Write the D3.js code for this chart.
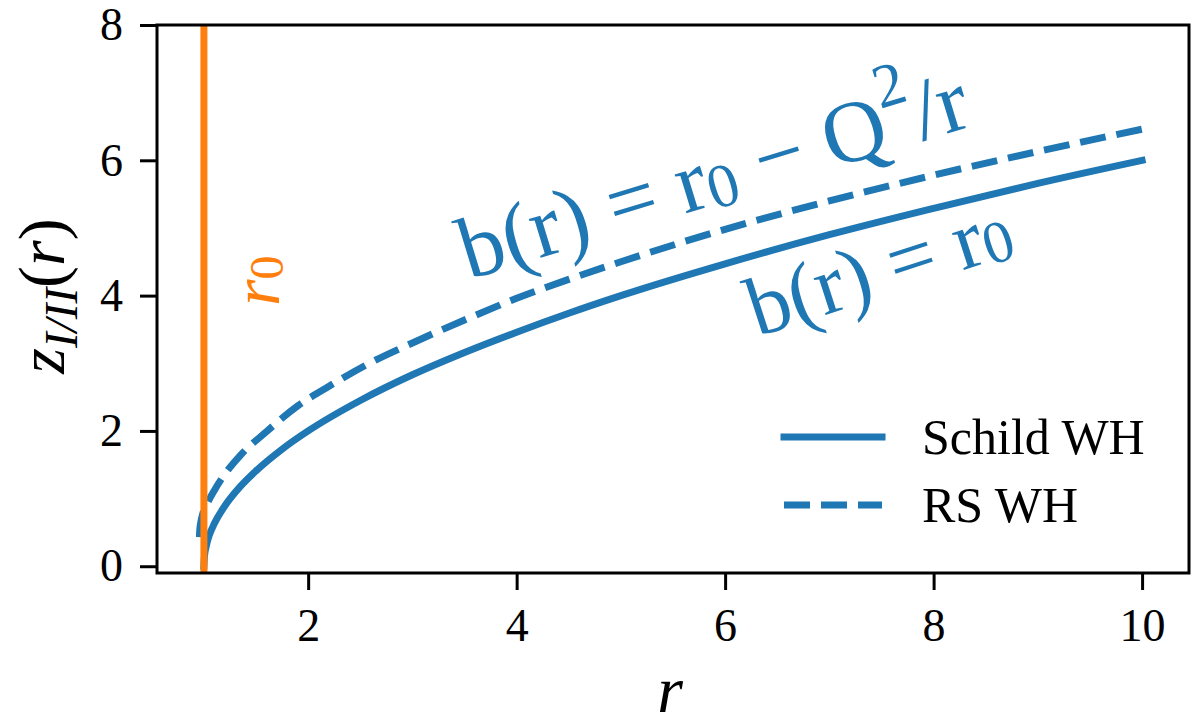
<!DOCTYPE html>
<html>
<head>
<meta charset="utf-8">
<script src="https://cdn.jsdelivr.net/npm/d3@7"></script>
<style>
  body { margin: 0; background: #fff; }
  svg { display: block; }
  text { font-family: "Liberation Serif", "DejaVu Serif", serif; }
  .axis path.domain { display: none; }
  .axis line { stroke: #000; stroke-width: 3; }
  .axis text { font-size: 46px; fill: #000; }
</style>
</head>
<body>
<script>
// values
const rSchild = [1, 1.005, 1.02, 1.05, 1.1, 1.2, 1.35, 1.5, 1.75, 2, 2.5, 3, 3.5, 4, 4.5, 5, 6, 7, 8, 9, 10];
const zSchild = [0, 0.14, 0.28, 0.45, 0.63, 0.89, 1.18, 1.41, 1.73, 2.0, 2.45, 2.83, 3.16, 3.46, 3.74, 4.0, 4.47, 4.90, 5.29, 5.66, 6.0];
const rRS = [0.957, 0.96, 0.97, 0.99, 1.03, 1.1, 1.2, 1.35, 1.6, 1.9, 2.2, 2.6, 3, 3.5, 4, 4.5, 5, 6, 7, 8, 9, 10];
const zRS = [0.43, 0.53, 0.65, 0.78, 0.92, 1.12, 1.36, 1.64, 1.99, 2.37, 2.66, 3.01, 3.30, 3.64, 3.96, 4.24, 4.50, 4.98, 5.40, 5.78, 6.13, 6.46];
const throatR = 1;
const xTicks = [2, 4, 6, 8, 10];
const yTicks = [0, 2, 4, 6, 8];
const legendLabels = ["Schild WH", "RS WH"];

const width = 1200, height = 727;
const plot = {left: 157, right: 1189, top: 25, bottom: 573};
const blue = "#1f77b4", orange = "#ff7f0e";

const svg = d3.select("body").append("svg")
  .attr("width", width)
  .attr("height", height);

const x = d3.scaleLinear().domain([0.55, 10.45]).range([plot.left, plot.right]);
const y = d3.scaleLinear().domain([-0.1, 8]).range([plot.bottom, plot.top]);

svg.append("defs").append("clipPath")
  .attr("id", "clip")
  .append("rect")
  .attr("x", plot.left).attr("y", plot.top)
  .attr("width", plot.right - plot.left)
  .attr("height", plot.bottom - plot.top);

const charts = svg.append("g").attr("clip-path", "url(#clip)");

const line = d3.line()
  .x(d => x(d[0]))
  .y(d => y(d[1]))
  .curve(d3.curveMonotoneX);

// Schild WH (solid)
charts.append("path")
  .datum(d3.zip(rSchild, zSchild))
  .attr("d", line)
  .attr("fill", "none")
  .attr("stroke", blue)
  .attr("stroke-width", 7)
  .attr("stroke-linecap", "square");

// RS WH (dashed)
charts.append("path")
  .datum(d3.zip(rRS, zRS))
  .attr("d", line)
  .attr("fill", "none")
  .attr("stroke", blue)
  .attr("stroke-width", 7)
  .attr("stroke-dasharray", "26,11");

// throat r0
charts.append("line")
  .attr("x1", x(throatR)).attr("x2", x(throatR))
  .attr("y1", plot.top).attr("y2", plot.bottom)
  .attr("stroke", orange)
  .attr("stroke-width", 7);

// axes
svg.append("g")
  .attr("class", "axis")
  .attr("transform", "translate(0," + plot.bottom + ")")
  .call(d3.axisBottom(x).tickValues(xTicks).tickSize(17).tickPadding(18).tickFormat(d3.format("d")));

svg.append("g")
  .attr("class", "axis")
  .attr("transform", "translate(" + plot.left + ",0)")
  .call(d3.axisLeft(y).tickValues(yTicks).tickSize(17).tickPadding(17).tickFormat(d3.format("d")));

svg.append("rect")
  .attr("x", plot.left).attr("y", plot.top)
  .attr("width", plot.right - plot.left)
  .attr("height", plot.bottom - plot.top)
  .attr("fill", "none")
  .attr("stroke", "#000")
  .attr("stroke-width", 3);

// axis labels
svg.append("text")
  .attr("x", (plot.left + plot.right) / 2 - 3)
  .attr("y", 712)
  .attr("text-anchor", "middle")
  .attr("font-size", 66)
  .attr("font-style", "italic")
  .text("r");

const yl = svg.append("text")
  .attr("transform", "translate(64,296) rotate(-90)")
  .attr("text-anchor", "middle")
  .attr("font-size", 66)
  .attr("font-style", "italic");
yl.append("tspan").text("z");
yl.append("tspan").attr("font-size", 47).attr("dy", 13).text("I/II");
yl.append("tspan").attr("dy", -13).attr("font-style", "normal").text("(");
yl.append("tspan").text("r");
yl.append("tspan").attr("font-style", "normal").text(")");

// annotations
const a1 = svg.append("text")
  .attr("transform", "translate(" + x(5.88) + "," + y(5.8) + ") rotate(-17)")
  .attr("text-anchor", "middle")
  .attr("dominant-baseline", "central")
  .attr("font-size", 88)
  .attr("fill", blue);
a1.append("tspan").text("b(r) = r");
a1.append("tspan").attr("font-size", 62).attr("dy", 14).text("0");
a1.append("tspan").attr("dy", -14).text(" \u2212 Q");
a1.append("tspan").attr("font-size", 62).attr("dy", -34).text("2");
a1.append("tspan").attr("dy", 34).text("/r");

const a2 = svg.append("text")
  .attr("transform", "translate(" + x(7.47) + "," + y(4.42) + ") rotate(-18)")
  .attr("text-anchor", "middle")
  .attr("dominant-baseline", "central")
  .attr("font-size", 84)
  .attr("fill", blue);
a2.append("tspan").text("b(r) = r");
a2.append("tspan").attr("font-size", 60).attr("dy", 13).text("0");

const a3 = svg.append("text")
  .attr("transform", "translate(" + x(1.5) + "," + y(4.22) + ") rotate(-90)")
  .attr("text-anchor", "middle")
  .attr("dominant-baseline", "central")
  .attr("font-size", 68)
  .attr("fill", orange);
a3.append("tspan").attr("font-style", "italic").text("r");
a3.append("tspan").attr("font-size", 48).attr("dy", 10).text("0");

// legend
const legend = svg.append("g").attr("class", "legende");
const legendY = [437, 505];
legendLabels.forEach((lab, i) => {
  legend.append("line")
    .attr("x1", 784).attr("x2", 882)
    .attr("y1", legendY[i]).attr("y2", legendY[i])
    .attr("stroke", blue)
    .attr("stroke-width", 7)
    .attr("stroke-linecap", i === 0 ? "square" : "butt")
    .attr("stroke-dasharray", i === 0 ? null : "26,11");
  legend.append("text")
    .attr("x", 922)
    .attr("y", legendY[i])
    .attr("dominant-baseline", "central")
    .attr("font-size", 50)
    .text(lab);
});
</script>
</body>
</html>
